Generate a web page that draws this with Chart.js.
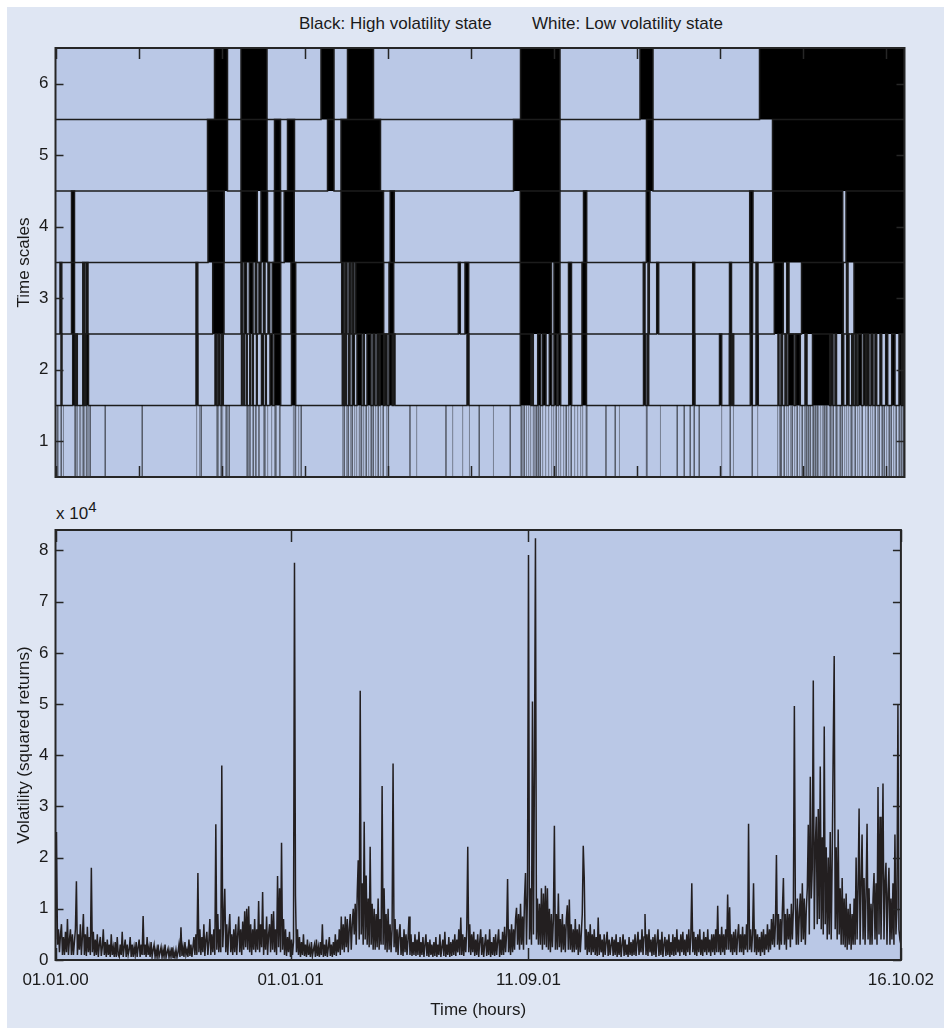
<!DOCTYPE html>
<html>
<head>
<meta charset="utf-8">
<script src="https://cdn.jsdelivr.net/npm/chart.js@4.4.1/dist/chart.umd.min.js"></script>
<style>
  body { margin: 0; background: #fff; }
  #frame { position: absolute; left: 7px; top: 7px; width: 937px; height: 1021px; background: #dfe6f3; }
  canvas { position: absolute; left: 0; }
  #topChart { top: 0; }
  #bottomChart { top: 500px; }
  .txt { position: absolute; font: 17px "Liberation Sans", Arial, sans-serif; color: #1a1a1a; line-height: 20px; white-space: nowrap; }
</style>
</head>
<body>
<div id="frame"></div>
<div class="txt" style="left:299px; top:14px">Black: High volatility state</div>
<div class="txt" style="left:532px; top:14px">White: Low volatility state</div>
<div class="txt" style="left:56px; top:504px">x 10<span style="font-size:15px; position:relative; top:-7px">4</span></div>
<canvas id="topChart" width="944" height="500"></canvas>
<canvas id="bottomChart" width="944" height="528"></canvas>
<script>
Chart.defaults.font.family = '"Liberation Sans", Arial, sans-serif';
Chart.defaults.font.size = 17;
Chart.defaults.color = '#1a1a1a';

const T_MAX = 849;      // sample length in days
const TICK_STEP = 83;   // about 2000 hours
const VOL_STEP = 1;     // one volatility reading per day

const timeScales = [1, 2, 3, 4, 5, 6];

// start,end of every high volatility spell (days), one list per time scale
const scale1 = [1.8,2.5, 5.2,5.9, 7.5,8.2, 18.6,19.3, 19.8,20.5, 21.5,22.2, 23.7,24.4, 24.8,25.4, 27.2,27.9, 28.7,29.4, 30.9,31.6, 32.7,33.4, 34.2,34.9, 49.2,49.9, 86.2,86.9,
  140.6,141.4, 143.7,144.3, 145.2,145.9, 160.7,161.4, 161.9,162.6, 165.2,165.9, 166.7,167.4, 169.7,170.4, 170.9,171.6, 173.2,173.9,
  190.7,191.4, 191.9,192.6, 194,194.7, 197.2,197.9, 199.9,200.6, 203,203.7, 207.7,208.4, 208.9,209.6, 211.7,212.4, 215.7,216.4, 218.7,219.4, 219.9,220.6, 223.9,224.6, 237.8,240.2, 242.7,243.4, 245.2,245.9,
  286.7,287.4, 288.2,288.9, 290.7,291.4, 292.2,292.9, 294.7,295.4, 296.2,296.9, 298.7,299.4, 300.7,301.4, 303.5,306.2, 307.7,308.4, 310.2,310.9, 312.7,313.4, 315.2,315.9, 317.2,317.9, 319.7,320.4, 322.2,322.9, 324.7,325.4, 327.2,327.9, 330.7,331.4, 332.4,333.1,
  354,354.7, 360.7,361.4, 390,390.7, 396.7,397.4, 406.7,407.4, 413.5,414.2, 423.2,423.9, 437.5,438.2, 454.2,454.9,
  465.2,465.9, 466.7,467.4, 468.2,468.9, 470.5,471.2, 472.7,473.4, 474.7,475.4, 477.5,481, 482.2,482.9, 484.2,484.9, 486.7,487.4, 489.7,490.4, 492.7,493.4, 495.7,496.4, 497.7,498.4, 500.2,500.9, 502.7,503.4, 504.7,505.4, 507.7,508.4, 510.2,510.9, 512.7,513.4, 515.2,515.9, 518.7,519.4, 521.7,522.4, 524.7,525.4, 526.7,527.4, 530.3,531.5,
  550,550.7, 559.2,559.9, 563.5,564.2, 590.6,591.6, 604.5,605.2, 621.2,621.9, 628.2,628.9, 634.2,634.9, 638.2,638.9, 643.2,643.9, 665.7,666.4, 674.2,674.9, 677.5,678.2, 696.2,696.9, 701.7,702.4,
  721.7,722.4, 724,724.7, 725.2,725.9, 728.2,728.9, 730.7,731.4, 732.5,733.2, 734.7,735.4, 736.2,736.9, 738.7,739.4, 741.2,741.9, 743.7,744.4, 746.2,746.9, 748.7,749.4, 750.2,750.9, 752.2,752.9, 754.2,754.9, 756.8,758,
  759.2,759.9, 761.2,761.9, 762.7,763.4, 764.7,765.4, 766.7,767.4, 768.2,768.9, 770.2,770.9, 771.7,772.4, 774.2,774.9, 776,778, 780.2,780.9, 781.7,782.4, 784.2,784.9, 786.2,786.9, 788.7,789.4, 790.7,791.4, 792.7,793.4,
  795.2,795.9, 796.7,797.4, 799.2,799.9, 801.7,802.4, 803.7,804.4, 806.2,806.9, 809.7,810.4, 812.2,812.9, 814.7,815.4, 816.7,817.4, 819.2,819.9, 821.7,822.4, 823.2,823.9, 826.2,826.9, 828.2,828.9, 830.7,831.4,
  833.2,833.9, 835.2,835.9, 837.7,838.4, 840.2,840.9, 843.2,843.9, 845.2,845.9, 847.2,847.9];
const scale2 = [5.5,6.5, 17.2,19.5, 20.8,21.8, 27.3,29, 30.5,33, 140.5,142.5, 159.5,161.2, 162.8,164.5, 166.2,167.8, 186,186.7, 188.3,189, 191,191.7, 194.3,195, 197,197.8, 201,201.7, 206,207.8, 210,210.8, 214.5,217, 218.8,225.2, 236,240.2,
  286.8,288.2, 289.5,290.8, 293,294.5, 296.8,298.8, 301.5,306.2, 308,308.8, 311.5,315.5, 317.5,319.5, 321.5,323.5, 324.5,328.2, 329.5,331.5, 333.5,336.8, 337.8,339.5, 411.5,413.5,
  464.8,475.5, 476.5,477.8, 482.2,485.2, 487.2,490.5, 493.8,496.2, 498.5,501.2, 502.8,505.2, 513.2,516.2, 526.5,531, 588,590, 591.8,593.2, 637.2,639.5, 664,666.2, 673.8,675.5, 676.8,678.2, 694.8,696.8, 700.5,702.8,
  722.5,723.5, 725.5,727, 729.5,731, 732.8,738.5, 740.2,744.8, 749.5,751.5, 757,774.2, 775.5,777.5, 779.5,781, 786.2,788.2, 791.2,793.5, 796.2,797.8, 799.5,801.2, 802.8,806.2, 808.2,810.2, 811.5,813.5,
  815.5,817.5, 819.5,821.2, 824.5,826.2, 830.2,832.2, 836.2,839.5, 843.5,846, 847.5,849];
const scale3 = [4.5,6.3, 16,19, 27.3,28.8, 30.5,32.5, 140.5,142.3, 157.2,168.5, 185.5,187.2, 189,191, 193.8,197.5, 199.8,201.2, 203.5,205.5, 208,209.5, 212.5,214.2, 216.8,225.2, 235.5,240.2,
  286.2,288.2, 289.8,291.5, 293.5,295.2, 296.8,298.5, 300.2,328.2, 333.5,338.2, 402.8,404.8, 409.5,413.2, 464.8,496, 498.5,504.5, 513,516, 526.5,531, 587.8,589.5, 592.5,593.8, 601.2,603.2, 637.2,639.2,
  674,676, 694.5,697, 700.5,702.5, 718.8,727.8, 731.2,733.5, 746,787.8, 791,792.5, 798.5,849];
const scale4 = [16,19, 152.5,168.7, 185.5,201.8, 205.5,212, 218.8,225.2, 228.7,238.7, 285.5,328, 334.7,338.8, 464.8,504.5, 528,531.2, 590.8,594.5, 694.2,697.5, 717.2,787.2, 790.5,849];
const scale5 = [152,172, 185.5,211.5, 219,225, 232,239, 272,278.5, 285.5,325, 458,504.5, 591,597.5, 717,849];
const scale6 = [159,172, 185.5,211.5, 265.5,278.5, 292,318, 465,504.5, 584.5,597.5, 704,849];

const dateLabels = ['01.01.00', '01.01.01', '11.09.01', '16.10.02'];
const datePositions = [0, 236, 475, 849];

// squared returns, in units of 10^4, one value per day
const volatility = [
  0.4, 2.5, 0.3, 0.6, 0.15, 0.5, 0.7, 0.1, 0.45, 0.1, 0.55, 0.15, 0.8, 0.1, 0.4, 0.6, 0.1, 0.5, 0.1, 0.35,
  0.6, 1.54, 0.1, 0.5, 0.2, 0.7, 0.1, 0.45, 0.9, 0.1, 0.5, 0.08, 0.65, 0.15, 0.45, 0.1, 1.8, 0.15, 0.55, 0.08,
  0.4, 0.1, 0.5, 0.06, 0.3, 0.45, 0.08, 0.25, 0.6, 0.1, 0.35, 0.06, 0.4, 0.1, 0.3, 0.06, 0.5, 0.1, 0.25, 0.06,
  0.35, 0.06, 0.45, 0.1, 0.06, 0.3, 0.1, 0.55, 0.06, 0.25, 0.4, 0.06, 0.3, 0.1, 0.2, 0.45, 0.06, 0.3, 0.06, 0.25,
  0.1, 0.35, 0.06, 0.25, 0.4, 0.06, 0.3, 0.1, 0.86, 0.1, 0.3, 0.06, 0.45, 0.1, 0.25, 0.06, 0.35, 0.06, 0.2, 0.3,
  0.06, 0.2, 0.05, 0.3, 0.06, 0.15, 0.25, 0.05, 0.2, 0.06, 0.3, 0.05, 0.15, 0.22, 0.05, 0.18, 0.06, 0.25, 0.05, 0.15,
  0.06, 0.2, 0.05, 0.15, 0.3, 0.06, 0.64, 0.08, 0.25, 0.06, 0.35, 0.1, 0.2, 0.06, 0.4, 0.08, 0.3, 0.06, 0.25, 0.45,
  0.1, 0.5, 0.1, 1.7, 0.15, 0.6, 0.1, 0.45, 0.15, 0.7, 0.08, 0.4, 0.55, 0.1, 0.35, 0.8, 0.1, 0.5, 0.15, 0.6,
  0.1, 2.65, 0.2, 0.9, 0.15, 0.6, 0.15, 3.8, 0.25, 0.8, 1.39, 0.15, 0.7, 0.1, 0.55, 0.9, 0.15, 0.5, 0.1, 0.6,
  0.15, 0.7, 0.1, 0.5, 0.85, 0.15, 0.6, 0.1, 0.75, 0.2, 0.95, 0.25, 1.0, 0.2, 1.05, 0.15, 0.7, 0.1, 0.6, 0.2,
  0.8, 0.15, 0.6, 0.2, 1.15, 0.15, 0.7, 0.25, 1.33, 0.1, 0.6, 0.2, 0.85, 0.1, 0.5, 0.7, 0.15, 0.9, 0.2, 0.95,
  0.15, 0.6, 0.1, 1.64, 0.25, 1.4, 0.15, 2.29, 0.2, 0.8, 0.1, 0.6, 0.08, 0.45, 0.15, 0.55, 0.06, 0.4, 0.1, 0.35,
  7.76, 1.25, 0.15, 0.6, 0.1, 0.45, 0.06, 0.35, 0.1, 0.5, 0.08, 0.3, 0.06, 0.4, 0.1, 0.25, 0.06, 0.35, 0.08, 0.2,
  0.3, 0.06, 0.4, 0.08, 0.25, 0.06, 0.35, 0.1, 0.7, 0.06, 0.3, 0.08, 0.4, 0.06, 0.25, 0.45, 0.08, 0.3, 0.06, 0.35,
  0.1, 0.5, 0.08, 0.4, 0.15, 0.6, 0.1, 0.85, 0.2, 0.7, 0.15, 0.85, 0.25, 0.8, 0.15, 0.6, 0.9, 0.2, 0.7, 1.0,
  0.5, 1.1, 0.3, 1.3, 1.95, 0.4, 5.26, 0.5, 1.5, 0.3, 2.7, 0.4, 1.65, 0.3, 1.2, 0.25, 2.21, 0.3, 1.1, 0.2,
  1.0, 0.2, 0.9, 0.25, 1.2, 0.2, 0.8, 0.3, 3.4, 0.3, 1.4, 0.2, 0.9, 0.15, 1.0, 0.2, 0.7, 0.15, 0.6, 3.84,
  0.25, 0.8, 0.15, 0.6, 0.1, 0.5, 0.7, 0.1, 0.45, 0.08, 0.6, 0.15, 0.5, 0.1, 0.4, 0.85, 0.1, 0.5, 0.08, 0.35,
  0.1, 0.5, 0.08, 0.4, 0.1, 0.55, 0.06, 0.35, 0.1, 0.45, 0.06, 0.3, 0.5, 0.08, 0.35, 0.06, 0.4, 0.1, 0.3, 0.06,
  0.35, 0.08, 0.45, 0.06, 0.3, 0.1, 0.5, 0.06, 0.25, 0.4, 0.08, 0.55, 0.06, 0.3, 0.1, 0.45, 0.06, 0.35, 0.08, 0.4,
  0.1, 0.5, 0.08, 0.4, 0.15, 0.6, 0.1, 0.83, 0.1, 0.5, 0.08, 0.45, 0.15, 0.6, 2.21, 0.15, 0.7, 0.1, 0.5, 0.15,
  0.55, 0.08, 0.4, 0.1, 0.5, 0.06, 0.35, 0.6, 0.1, 0.45, 0.06, 0.3, 0.5, 0.08, 0.4, 0.1, 0.6, 0.06, 0.35, 0.1,
  0.45, 0.08, 0.5, 0.1, 0.35, 0.6, 0.06, 0.4, 0.1, 0.55, 0.1, 0.65, 0.15, 0.5, 1.58, 0.15, 0.6, 0.1, 0.7, 0.15,
  0.6, 0.2, 0.8, 1.02, 0.3, 0.9, 0.2, 1.1, 0.3, 0.85, 0.2, 1.2, 1.7, 0.3, 1.3, 7.91, 0.4, 1.4, 0.3, 5.05,
  0.5, 3.78, 8.24, 0.4, 1.2, 0.3, 1.1, 0.3, 1.4, 0.2, 1.3, 0.3, 1.45, 0.25, 1.4, 0.2, 1.0, 0.15, 0.9, 0.25,
  0.8, 2.62, 0.2, 0.9, 0.2, 1.3, 0.25, 0.8, 0.15, 0.9, 0.2, 0.7, 0.15, 0.8, 1.07, 0.2, 1.18, 0.2, 0.7, 0.15,
  0.6, 0.15, 0.8, 0.2, 0.6, 0.1, 0.7, 0.15, 0.5, 0.9, 2.23, 1.6, 0.2, 0.6, 0.1, 0.55, 0.15, 0.7, 0.1, 0.5,
  0.15, 0.6, 0.1, 0.45, 0.08, 0.83, 0.1, 0.5, 0.15, 0.4, 0.06, 0.5, 0.1, 0.35, 0.55, 0.08, 0.4, 0.1, 0.3, 0.45,
  0.08, 0.4, 0.1, 0.5, 0.06, 0.35, 0.1, 0.45, 0.06, 0.3, 0.5, 0.08, 0.4, 0.1, 0.3, 0.06, 0.45, 0.1, 0.35, 0.08,
  0.4, 0.1, 0.5, 0.08, 0.35, 0.55, 0.1, 0.4, 0.15, 0.6, 0.1, 0.45, 0.9, 0.1, 0.5, 0.08, 0.6, 0.15, 0.4, 0.08,
  0.45, 0.1, 0.5, 0.06, 0.35, 0.6, 0.08, 0.4, 0.1, 0.55, 0.06, 0.3, 0.45, 0.08, 0.4, 0.1, 0.5, 0.06, 0.35, 0.1,
  0.5, 0.08, 0.45, 0.1, 0.6, 0.15, 0.4, 0.08, 0.5, 0.15, 0.55, 0.1, 0.4, 0.08, 0.5, 0.15, 0.6, 0.1, 0.45, 1.5,
  0.15, 0.55, 0.1, 0.45, 0.08, 0.5, 0.15, 0.6, 0.1, 0.4, 0.08, 0.55, 0.15, 0.45, 0.1, 0.6, 0.15, 0.4, 0.08, 0.5,
  0.15, 0.5, 0.1, 0.6, 0.15, 1.06, 0.15, 0.5, 0.1, 0.65, 0.15, 0.5, 0.1, 0.6, 0.2, 1.28, 0.2, 1.03, 0.15, 0.5,
  0.1, 0.55, 0.15, 0.6, 0.1, 0.45, 0.7, 0.15, 0.5, 0.15, 0.65, 0.1, 0.5, 0.2, 0.7, 0.15, 2.66, 0.2, 0.6, 0.15,
  0.5, 1.5, 0.15, 0.6, 0.1, 0.5, 0.15, 0.45, 0.08, 0.55, 0.15, 0.6, 0.1, 0.5, 0.2, 0.7, 0.15, 0.6, 0.2, 0.8,
  0.3, 0.9, 0.25, 0.7, 2.05, 0.3, 0.9, 0.2, 0.8, 0.3, 1.0, 1.6, 0.3, 0.9, 0.2, 1.0, 0.4, 0.9, 0.25, 1.1,
  0.4, 1.0, 4.96, 1.1, 0.3, 1.2, 0.3, 0.9, 1.3, 0.35, 1.5, 0.4, 1.2, 0.3, 1.0, 1.4, 2.64, 0.5, 3.58, 1.2,
  1.8, 5.46, 0.6, 2.2, 2.8, 0.7, 2.95, 0.8, 3.78, 0.6, 2.4, 0.5, 4.56, 0.7, 2.2, 0.4, 2.0, 0.5, 2.5, 0.4,
  2.0, 4.12, 5.94, 0.6, 2.2, 0.4, 2.55, 0.5, 1.4, 0.3, 1.6, 0.3, 1.2, 0.25, 1.3, 0.2, 1.0, 0.3, 1.1, 0.2,
  0.9, 0.3, 1.2, 0.3, 2.0, 0.4, 1.4, 2.96, 0.3, 1.5, 2.45, 0.4, 1.6, 0.3, 1.3, 2.66, 0.4, 1.4, 0.3, 1.1,
  0.3, 1.2, 1.7, 0.4, 1.5, 0.3, 3.38, 0.5, 2.8, 0.4, 1.6, 3.45, 0.4, 1.5, 1.9, 0.3, 1.3, 1.8, 0.3, 1.2,
  0.4, 1.5, 0.3, 2.45, 0.5, 1.0, 4.98, 0.6, 0.4, 0.3
];

const PLOT_BG = '#bac8e6';
const AXIS_COLOR = '#262626';

// light blue plot area, box and inward tick marks (MATLAB style)
const boxPlugin = {
  id: 'box',
  beforeDatasetsDraw(chart) {
    const a = chart.chartArea, ctx = chart.ctx;
    ctx.save();
    ctx.fillStyle = PLOT_BG;
    ctx.fillRect(a.left, a.top, a.right - a.left, a.bottom - a.top);
    ctx.restore();
  },
  afterDraw(chart, args, opts) {
    const a = chart.chartArea, ctx = chart.ctx;
    const xs = chart.scales.x, ys = chart.scales.y;
    ctx.save();
    ctx.strokeStyle = AXIS_COLOR;
    ctx.lineWidth = 1.5;
    ctx.beginPath();
    xs.ticks.forEach(t => {
      const px = Math.round(xs.getPixelForValue(t.value)) + 0.5;
      ctx.moveTo(px, a.bottom); ctx.lineTo(px, a.bottom - opts.xLen);
      ctx.moveTo(px, a.top); ctx.lineTo(px, a.top + opts.xLen);
    });
    ys.ticks.forEach(t => {
      const py = Math.round(ys.getPixelForValue(t.value)) + 0.5;
      ctx.moveTo(a.left, py); ctx.lineTo(a.left + opts.yLen, py);
      ctx.moveTo(a.right, py); ctx.lineTo(a.right - opts.yLen, py);
    });
    ctx.stroke();
    ctx.lineWidth = 2;
    ctx.strokeRect(a.left, a.top, a.right - a.left, a.bottom - a.top);
    ctx.restore();
  }
};

function stateLine(switches, row) {
  const lo = row - 0.5, hi = row + 0.5;
  const pts = [{x: 0, y: lo}];
  for (let i = 0; i < switches.length; i += 2) {
    pts.push({x: switches[i], y: lo}, {x: switches[i], y: hi},
             {x: switches[i + 1], y: hi}, {x: switches[i + 1], y: lo});
  }
  pts.push({x: T_MAX, y: lo});
  return pts;
}

const allScales = [scale1, scale2, scale3, scale4, scale5, scale6];
const stateSets = timeScales.map((row, i) => ({
  label: 'Scale ' + row,
  data: stateLine(allScales[i], row),
  fill: {value: row - 0.5},
  backgroundColor: row === 1 ? 'rgba(0,0,0,0.3)' : '#000',
  borderColor: row === 1 ? 'rgba(20,20,20,0.22)' : '#1c1c1c',
  borderWidth: row === 1 ? 1 : 1.5,
  pointRadius: 0
}));

new Chart(document.getElementById('topChart'), {
  type: 'line',
  data: { datasets: stateSets },
  options: {
    responsive: false,
    animation: false,
    layout: { padding: { left: 8, right: 39.5, top: 48, bottom: 23 } },
    plugins: { legend: { display: false }, tooltip: { enabled: false }, box: { xLen: 11, yLen: 8 } },
    scales: {
      x: {
        type: 'linear', min: 0, max: T_MAX,
        grid: { display: false }, border: { display: false },
        ticks: { display: false },
        afterBuildTicks: s => {
          const t = [];
          for (let v = 0; v <= T_MAX; v += TICK_STEP) t.push({value: v});
          s.ticks = t;
        },
        afterFit: s => { s.height = 0; }
      },
      y: {
        type: 'linear', min: 0.5, max: 6.5,
        grid: { display: false, drawTicks: false }, border: { display: false },
        ticks: { padding: 7 },
        afterBuildTicks: s => { s.ticks = timeScales.map(v => ({value: v})); },
        afterFit: s => { s.width = 47.5; },
        title: { display: true, text: 'Time scales', padding: { top: 6, bottom: 0 } }
      }
    }
  },
  plugins: [boxPlugin]
});

new Chart(document.getElementById('bottomChart'), {
  type: 'line',
  data: {
    datasets: [{
      label: 'Volatility',
      data: volatility.map((v, i) => ({x: i * VOL_STEP, y: v})),
      borderColor: '#231f20',
      borderWidth: 1.5,
      pointRadius: 0,
      fill: false
    }]
  },
  options: {
    responsive: false,
    animation: false,
    layout: { padding: { left: 8, right: 39.5, top: 30, bottom: 0 } },
    plugins: { legend: { display: false }, tooltip: { enabled: false }, box: { xLen: 12, yLen: 8 } },
    scales: {
      x: {
        type: 'linear', min: 0, max: T_MAX,
        grid: { display: false, drawTicks: false }, border: { display: false },
        ticks: { padding: 10, maxRotation: 0, autoSkip: false, callback: (v, i) => dateLabels[i] },
        afterBuildTicks: s => { s.ticks = datePositions.map(v => ({value: v})); },
        afterFit: s => { s.height = 68; },
        title: { display: true, text: 'Time (hours)', padding: { top: 0, bottom: 7 } }
      },
      y: {
        type: 'linear', min: 0, max: 8.4,
        grid: { display: false, drawTicks: false }, border: { display: false },
        ticks: { padding: 7 },
        afterBuildTicks: s => { s.ticks = [0, 1, 2, 3, 4, 5, 6, 7, 8].map(v => ({value: v})); },
        afterFit: s => { s.width = 47.5; },
        title: { display: true, text: 'Volatility (squared returns)', padding: { top: 6, bottom: 0 } }
      }
    }
  },
  plugins: [boxPlugin]
});
</script>
</body>
</html>
